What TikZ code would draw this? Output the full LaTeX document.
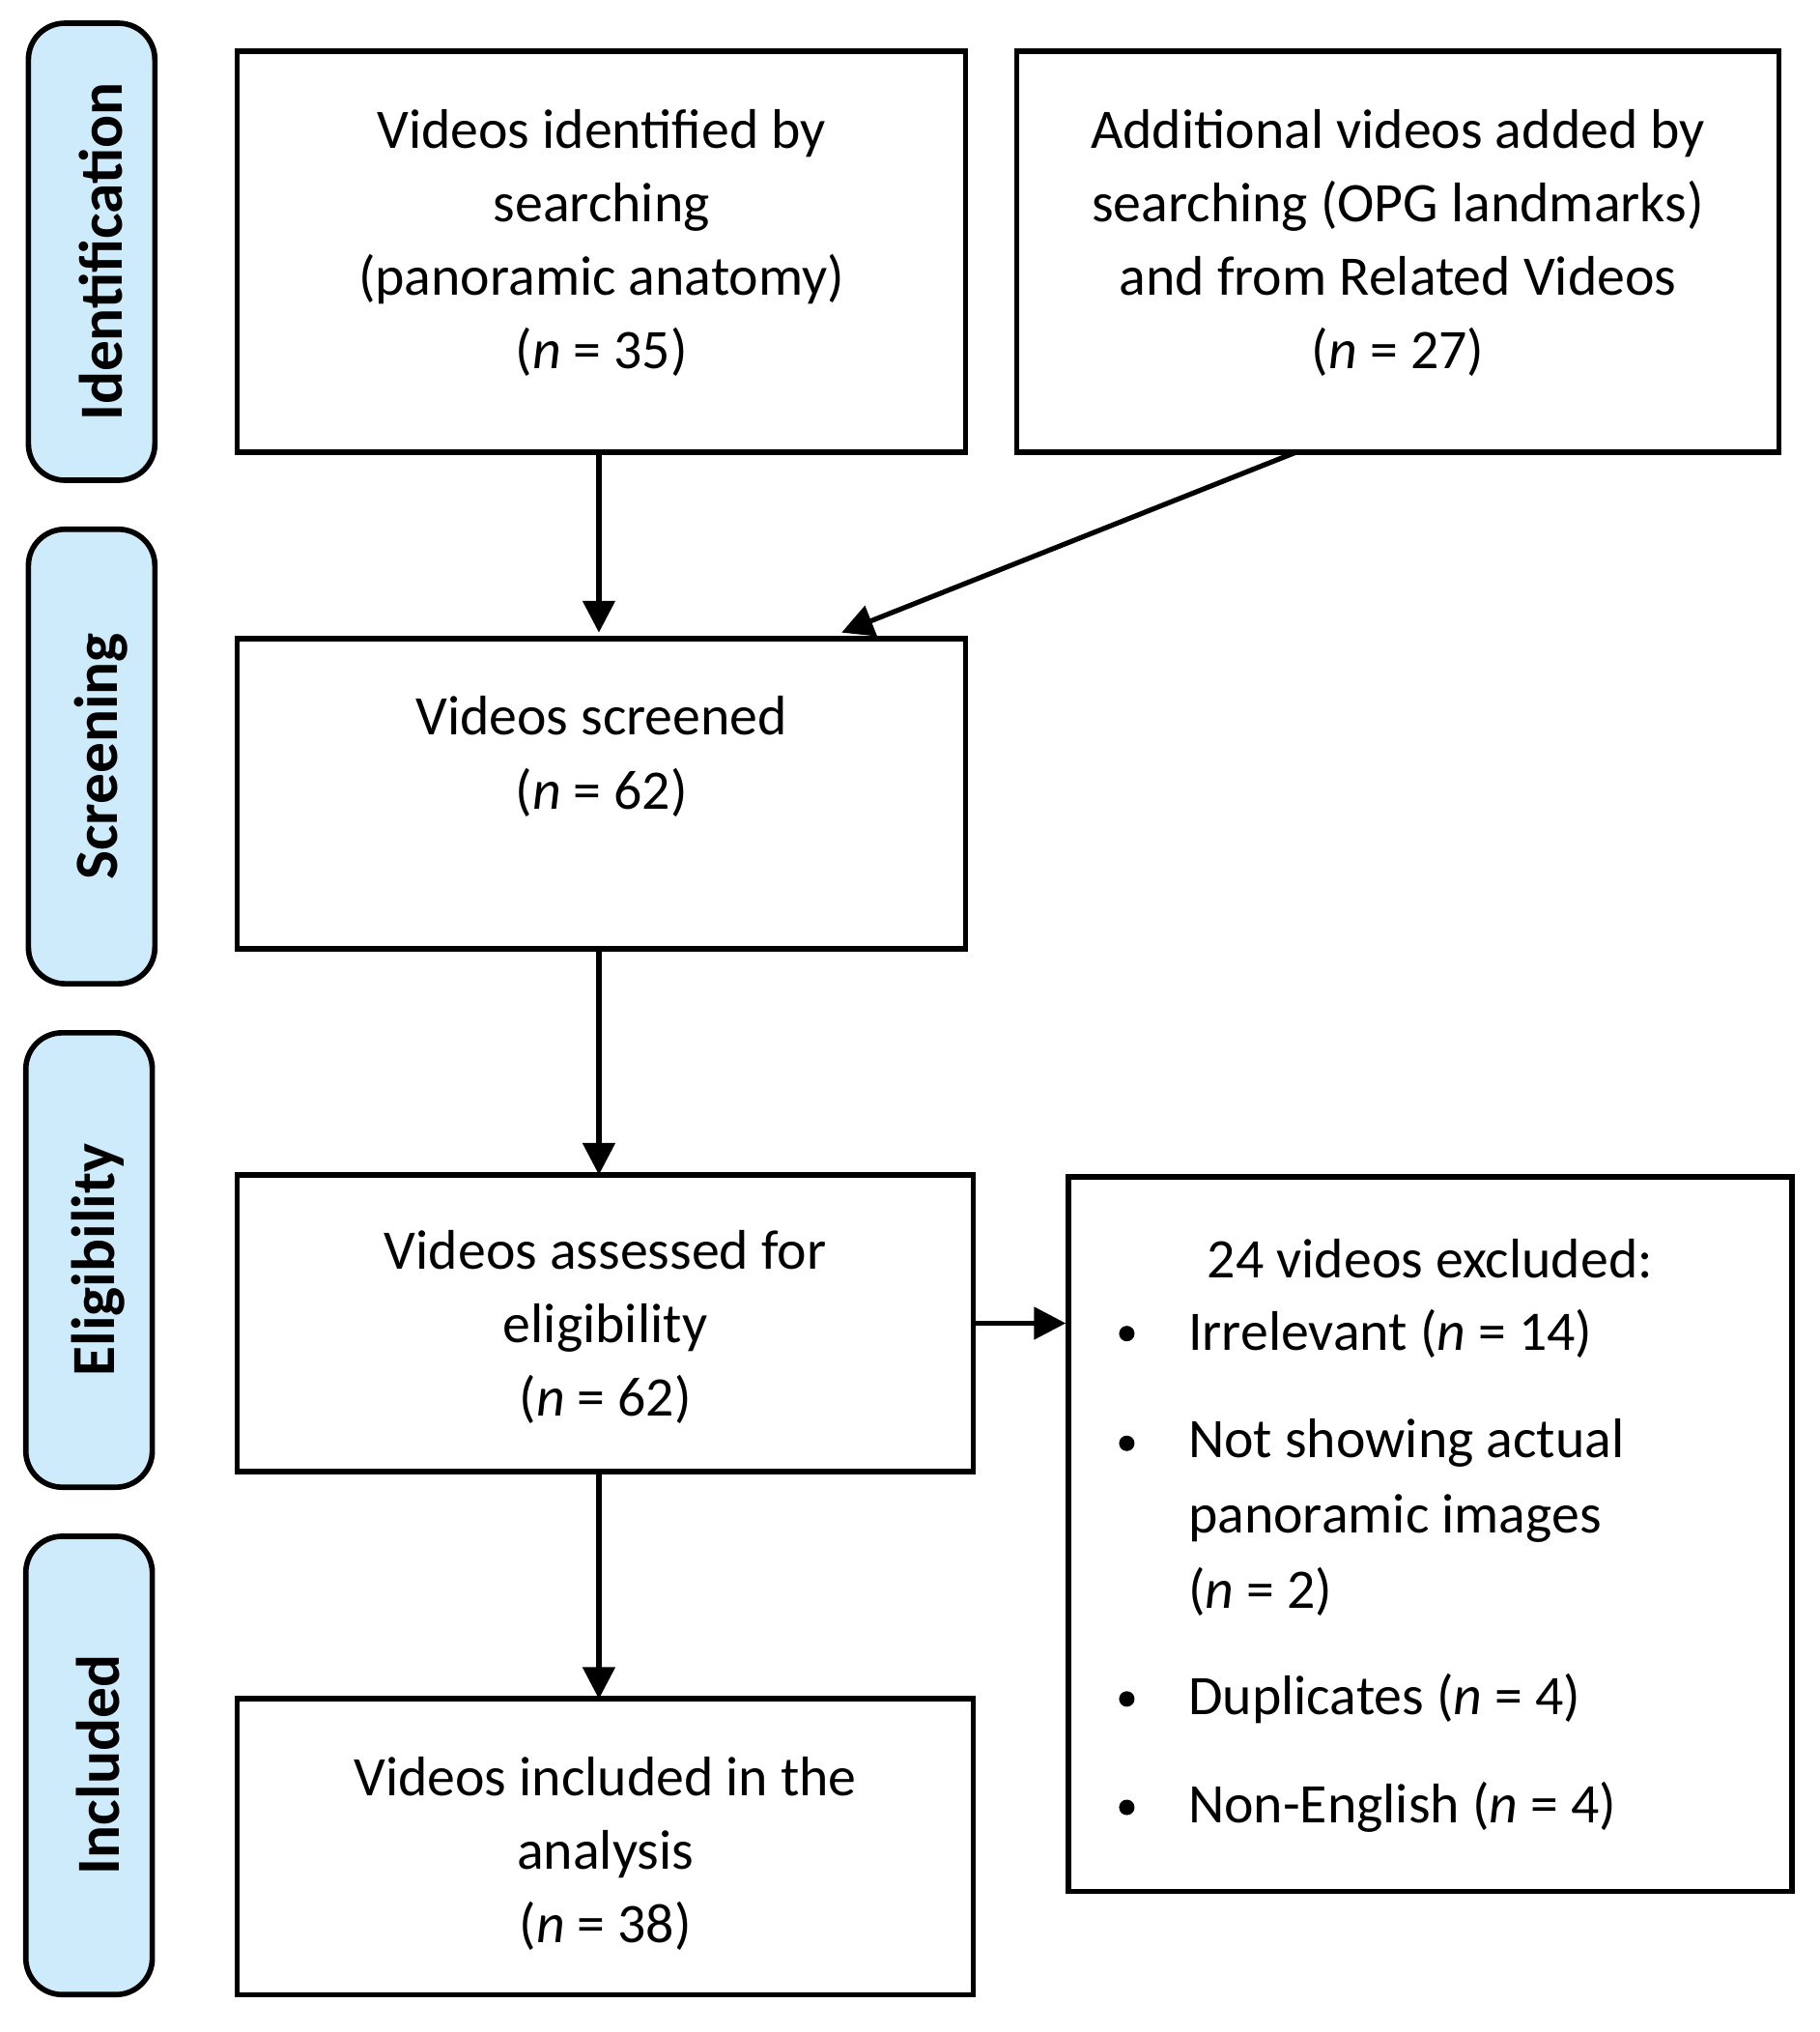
\documentclass[tikz,border=0pt]{standalone}
\usepackage{fontspec}
\setmainfont{Carlito}
\usetikzlibrary{arrows.meta}
\definecolor{side}{HTML}{CDEBFB}
\begin{document}
\begin{tikzpicture}[x=0.01cm,y=-0.01cm,
  box/.style={draw,line width=1.2pt},
  sidebox/.style={draw,line width=1.2pt,fill=side,rounded corners=8pt},
  sidetxt/.style={rotate=90,font=\fontsize{13.5}{16}\selectfont\bfseries},
  txt/.style={align=center,font=\fontsize{12.3}{16.2}\selectfont},
  arr/.style={-{Triangle[length=7pt,width=7pt]},line width=1.1pt}]
\useasboundingbox (0,0) rectangle (1410,1574);
\draw[sidebox] (22,18) rectangle (120,372); \node[sidetxt] (l1) at (78,195) {Identification};
\draw[sidebox] (22,410) rectangle (120,762); \node[sidetxt] (l2) at (78,586) {Screening};
\draw[sidebox] (20,800) rectangle (118,1152); \node[sidetxt] (l3) at (76,976) {Eligibility};
\draw[sidebox] (20,1190) rectangle (118,1545); \node[sidetxt] (l4) at (76,1367) {Included};
\node[box,inner sep=0,minimum width=5.64cm,minimum height=3.1cm] (A) at (466,195) {};
\node[txt] at (466,188) {Videos identified by\\searching\\(panoramic anatomy)\\(\textit{n} = 35)};
\node[box,inner sep=0,minimum width=5.9cm,minimum height=3.1cm] (B) at (1083,195) {};
\node[txt] at (1083,188) {Additional videos added by\\searching (OPG landmarks)\\and from Related Videos\\(\textit{n} = 27)};
\node[box,inner sep=0,minimum width=5.64cm,minimum height=2.4cm] (S) at (466,615) {};
\node[txt] at (466,586) {Videos screened\\(\textit{n} = 62)};
\node[box,inner sep=0,minimum width=5.7cm,minimum height=2.3cm] (E) at (469,1025) {};
\node[txt] at (469,1028) {Videos assessed for\\eligibility\\(\textit{n} = 62)};
\node[box,inner sep=0,minimum width=5.6cm,minimum height=5.53cm] (X) at (1108,1188.5) {};
\node[txt] at (1108,975) {24 videos excluded:};
\foreach \y/\t in {1033/{Irrelevant (\textit{n} = 14)},1118/{Not showing actual},1316/{Duplicates (\textit{n} = 4)},1400/{Non-English (\textit{n} = 4)}}{
  \fill (873,\y) circle (6);
  \node[txt,anchor=west,inner sep=0] at (920,\y) {\t};}
\node[txt,anchor=west,inner sep=0] at (920,1176) {panoramic images};
\node[txt,anchor=west,inner sep=0] at (920,1233) {(\textit{n} = 2)};
\node[box,inner sep=0,minimum width=5.7cm,minimum height=2.29cm] (I) at (469,1430.5) {};
\node[txt] at (469,1436) {Videos included in the\\analysis\\(\textit{n} = 38)};
\coordinate (a1) at (464,350); \coordinate (a2) at (464,490);
\coordinate (b1) at (1005,350); \coordinate (b2) at (652,490);
\draw[arr] (a1) -- (a2);
\draw[arr] (b1) -- (b2);
\draw[arr] (464,735) -- (464,910);
\draw[arr] (E.east) -- (E.east -| X.west);
\draw[arr] (464,1140) -- (464,1316);
\end{tikzpicture}
\end{document}
